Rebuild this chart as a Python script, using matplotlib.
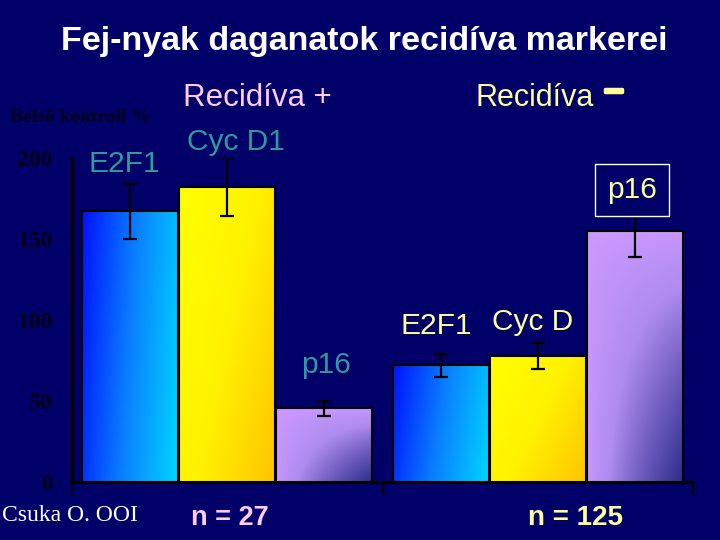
import numpy as np
import matplotlib
matplotlib.use("Agg")
import matplotlib.pyplot as plt
import matplotlib.patheffects as pe
from matplotlib.colors import LinearSegmentedColormap

# data
groups = ['Recidíva +', 'Recidíva']
markers_pos = ['E2F1', 'Cyc D1', 'p16']
markers_neg = ['E2F1', 'Cyc D', 'p16']
values_pos = [167, 182, 45.5]
err_pos = [17, 18, 4.5]
values_neg = [72, 78, 155]
err_neg = [7, 8, 16]
n_labels = ['n = 27', 'n = 125']
yticks = [0, 50, 100, 150, 200]

bg = '#000068'
teal = '#2e9c9c'
pink = '#ffccff'
lyel = '#ffff99'

# gradient colormaps for the three markers
cmaps = [
    LinearSegmentedColormap.from_list('blue', [(0, '#0014ff'), (0.5, '#0a80ff'), (1, '#00d4ff')]),
    LinearSegmentedColormap.from_list('yel', [(0, '#ffff00'), (0.5, '#fff200'), (1, '#ffc400')]),
    LinearSegmentedColormap.from_list('lav', [(0, '#cc99ff'), (0.4, '#b08cf0'), (1, '#2e2e8c')]),
]

fig = plt.figure(figsize=(7.2, 5.4), dpi=100, facecolor=bg)
ax = fig.add_axes([0.1, 1 - 482 / 540, 0.8625, 324 / 540])
ax.set_facecolor(bg)

step = 0.313
width = 0.309
offsets = np.array([-1, 0, 1]) * step


def grad(kind, nx=60, ny=120):
    u = np.linspace(0, 1, nx)[None, :]
    v = np.linspace(0, 1, ny)[:, None]  # 0 at bottom
    if kind == 0:
        t = 0.85 * u + 0.15 * (1 - v)
    elif kind == 1:
        t = 0.6 * u + 0.4 * (1 - v)
    else:
        t = (u * (1 - v)) ** 0.6
    return cmaps[kind](np.clip(t, 0, 1))


for g, (vals, errs) in enumerate([(values_pos, err_pos), (values_neg, err_neg)]):
    xs = g + 0.5 + offsets
    bars = ax.bar(xs, vals, width=width, facecolor='none', edgecolor='black',
                  linewidth=1.5, zorder=3)
    for k, b in enumerate(bars):
        x0 = b.get_x()
        im = ax.imshow(grad(k), extent=[x0, x0 + b.get_width(), 0, b.get_height()],
                       origin='lower', aspect='auto', zorder=2)
        im.set_clip_path(b)
    ax.errorbar(xs, vals, yerr=errs, fmt='none', ecolor='black', elinewidth=1.6,
                capsize=5, capthick=1.6, zorder=4)

ax.set_xlim(0, 2)
ax.set_ylim(0, 200)

for s in ['top', 'right']:
    ax.spines[s].set_visible(False)
ax.spines['left'].set_linewidth(2.5)
ax.spines['bottom'].set_linewidth(2)
ax.spines['left'].set_color('black')
ax.spines['bottom'].set_color('black')
ax.set_xticks([0, 1, 2])
ax.set_xticklabels([])
ax.tick_params(axis='x', direction='out', length=9, width=1.5, color='black')
ax.set_yticks(yticks)
ax.set_yticklabels([str(t) for t in yticks], family='Liberation Serif',
                   fontweight='bold', fontsize=17, color='#00001a')
ax.tick_params(axis='y', length=0, pad=14)

# marker labels
sans = 'Liberation Sans'
lab_pos = [(0.167, 196), (0.528, 210), (0.818, 72)]
for name, (x, y) in zip(markers_pos, lab_pos):
    ax.text(x, y, name, color=teal, fontsize=21.5, family=sans, ha='center', va='center',
            clip_on=False)
lab_neg = [(1.172, 96), (1.485, 99)]
for name, (x, y) in zip(markers_neg[:2], lab_neg):
    ax.text(x, y, name, color=lyel, fontsize=21.5, family=sans, ha='center', va='center',
            clip_on=False)
ax.text(1.803, 180, markers_neg[2], color=lyel, fontsize=21.5, family=sans, ha='center',
        va='center', clip_on=False, zorder=5,
        bbox=dict(boxstyle='square,pad=0.4', facecolor=bg, edgecolor='white', linewidth=1))

# headings
fig.text(0.506, 0.924, 'Fej-nyak daganatok recidíva markerei', color='white', fontsize=24.5,
         fontweight='bold', family=sans, ha='center', va='center')
fig.text(0.357, 0.818, groups[0], color=pink, fontsize=22.5, family=sans, ha='center', va='center')
fig.text(0.742, 0.818, groups[1], color=lyel, fontsize=22, family=sans, ha='center', va='center')
fig.text(0.852, 0.832, '–', color=lyel, fontsize=24, fontweight='bold', family=sans,
         ha='center', va='center',
         path_effects=[pe.withStroke(linewidth=2.5, foreground=lyel)])
fig.text(0.014, 0.782, 'Belső kontroll %', color='#00001a', fontsize=14, fontweight='bold',
         family='Liberation Serif', ha='left', va='center')
fig.text(0.003, 0.045, 'Csuka O. OOI', color='white', fontsize=17, family='Liberation Serif',
         ha='left', va='center')
fig.text(0.319, 0.04, n_labels[0], color=pink, fontsize=19.5, fontweight='bold', family=sans,
         ha='center', va='center')
fig.text(0.799, 0.04, n_labels[1], color=lyel, fontsize=20, fontweight='bold', family=sans,
         ha='center', va='center')

fig.savefig('out.png', dpi=100, facecolor=bg)
